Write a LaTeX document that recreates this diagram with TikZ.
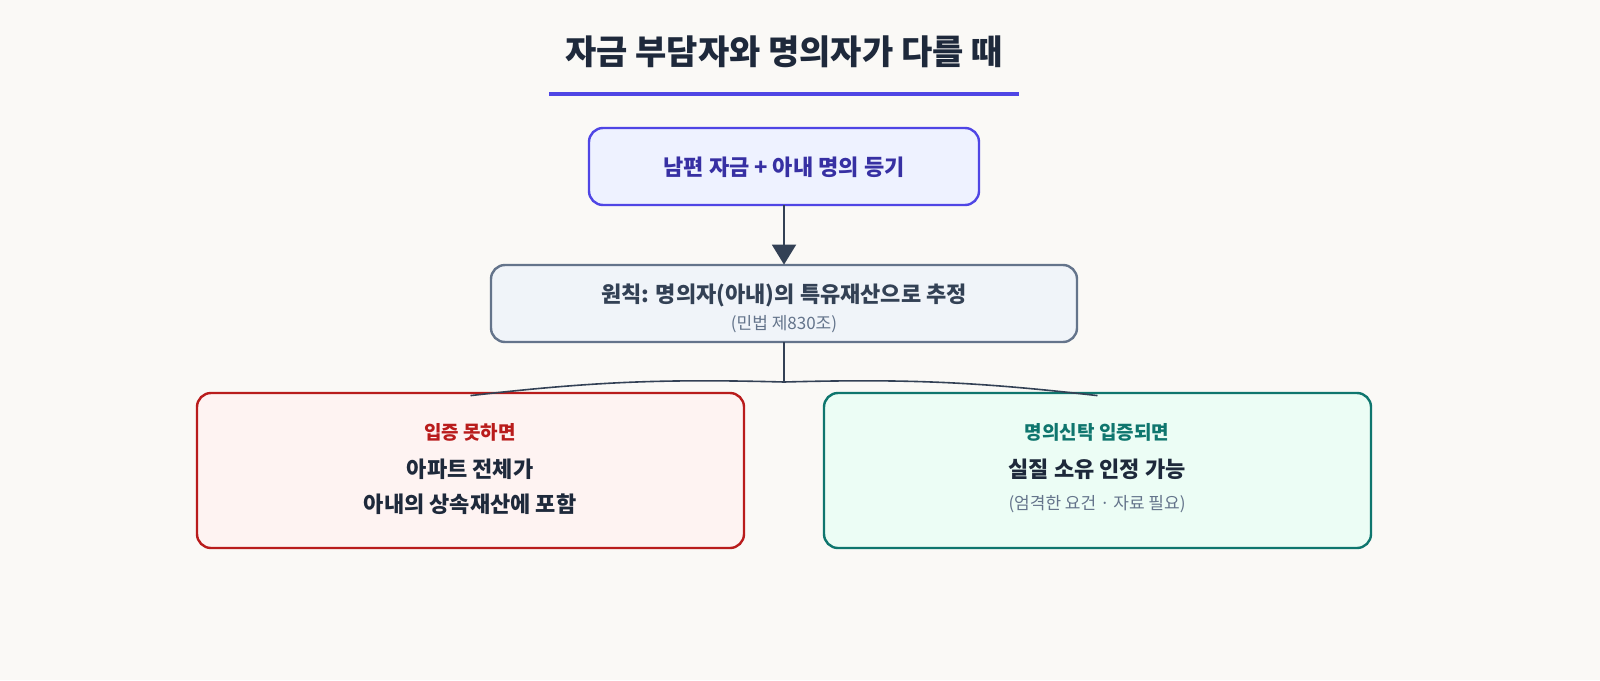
\documentclass[tikz,border=0pt]{standalone}
\usepackage{fontspec}
\setmainfont{Noto Sans CJK KR}
\usetikzlibrary{arrows.meta}
\definecolor{bg}{HTML}{FAF9F6}
\definecolor{ink}{HTML}{1E293B}
\definecolor{indigo}{HTML}{4F46E5}
\definecolor{indigoT}{HTML}{3730A3}
\definecolor{indigoF}{HTML}{EEF2FF}
\definecolor{slate}{HTML}{334155}
\definecolor{slateF}{HTML}{F0F4F9}
\definecolor{grayT}{HTML}{64748B}
\definecolor{redS}{HTML}{B91C1C}
\definecolor{redF}{HTML}{FEF3F2}
\definecolor{tealS}{HTML}{0F766E}
\definecolor{tealF}{HTML}{ECFDF5}
\tikzset{
  box/.style={draw, rounded corners=7pt, line width=1.2pt, inner sep=0pt},
  bt/.style={font=\fontsize{11}{13}\selectfont\bfseries, text=ink},
  st/.style={font=\fontsize{8.5}{10}\selectfont, text=grayT},
  conn/.style={draw=slate, line width=1pt}
}
\begin{document}
\begin{tikzpicture}[x=0.5pt,y=-0.5pt]
\fill[bg] (0,0) rectangle (1600,680);
\node[font=\fontsize{17}{20}\selectfont\bfseries, text=ink] (title) at (784,52) {자금 부담자와 명의자가 다를 때};
\draw[indigo, line width=2pt] (549,94) coordinate (u1) -- (1019,94) coordinate (u2);
% top box
\path[box, draw=indigo, fill=indigoF] (589,128) rectangle (979,205);
\node[minimum width=195pt, minimum height=38.5pt, inner sep=0pt] (top) at (784,166.5) {};
\node[font=\fontsize{11}{13}\selectfont\bfseries, text=indigoT] (toptext) at (784,167) {남편 자금 + 아내 명의 등기};
% middle box
\path[box, draw=grayT, fill=slateF] (491,265) rectangle (1077,342);
\node[minimum width=293pt, minimum height=38.5pt, inner sep=0pt] (mid) at (784,303.5) {};
\node[font=\fontsize{11}{13}\selectfont\bfseries, text=slate] (midtext) at (784,295) {원칙: 명의자(아내)의 특유재산으로 추정};
\node[st] (midsub) at (784,324) {(민법 제830조)};
\draw[conn, -{Triangle[length=10pt,width=12pt]}] (top.south) -- (mid.north);
% left box
\path[box, draw=redS, fill=redF] (197,393) rectangle (744,548);
\node[minimum width=273.5pt, minimum height=77.5pt, inner sep=0pt] (left) at (470.5,470.5) {};
\node[font=\fontsize{9.5}{11}\selectfont\bfseries, text=redS] (lt) at (470,432) {입증 못하면};
\node[bt] (l1) at (470,469) {아파트 전체가};
\node[bt] (l2) at (470,504) {아내의 상속재산에 포함};
% right box
\path[box, draw=tealS, fill=tealF] (824,393) rectangle (1371,548);
\node[minimum width=273.5pt, minimum height=77.5pt, inner sep=0pt] (right) at (1097.5,470.5) {};
\node[font=\fontsize{9.5}{11}\selectfont\bfseries, text=tealS] (rt) at (1097,432) {명의신탁 입증되면};
\node[bt] (r1) at (1097,469) {실질 소유 인정 가능};
\node[st] (r2) at (1097,504) {(엄격한 요건 · 자료 필요)};
% connectors
\coordinate (j) at (784,382);
\draw[conn] (mid.south) -- (j);
\draw[conn, line width=0.8pt] (j) to[bend right=4] ([yshift=-1.5pt]left.north);
\draw[conn, line width=0.8pt] (j) to[bend left=4] ([yshift=-1.5pt]right.north);
\pgfresetboundingbox
\useasboundingbox (0,0) rectangle (1600,680);
\end{tikzpicture}
\end{document}
